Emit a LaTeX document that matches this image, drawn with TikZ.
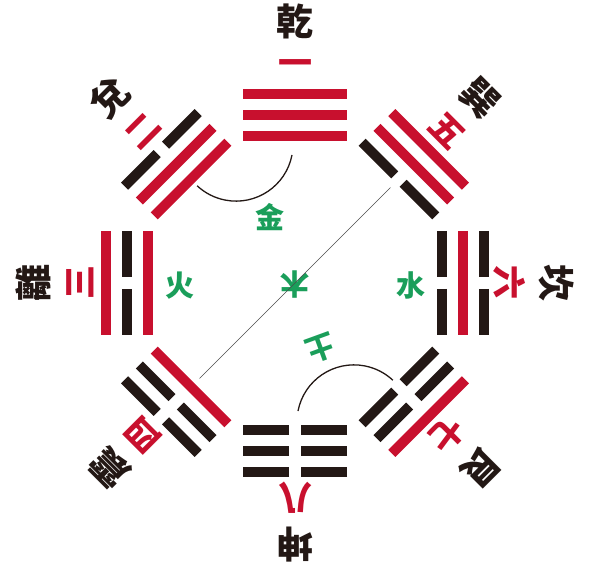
\documentclass[tikz,border=0pt]{standalone}
\usepackage{fontspec}
\newfontfamily\cjk{Noto Sans CJK TC}
\definecolor{guared}{HTML}{C8102E}
\definecolor{guablack}{HTML}{231815}
\definecolor{wxgreen}{HTML}{1A9E5A}
\tikzset{
  yang/.style={line width=10pt, guared},
  yin/.style={line width=10pt, guablack},
  guaname/.style={transform shape, inner sep=0pt, text=guablack, font=\cjk\bfseries\fontsize{37}{37}\selectfont},
  guanum/.style={transform shape, inner sep=0pt, text=guared, font=\cjk\bfseries\fontsize{34}{34}\selectfont},
  wuxing/.style={inner sep=0pt, text=wxgreen, font=\cjk\bfseries\fontsize{29}{29}\selectfont},
  link/.style={line width=1.3pt, guablack},
}
\begin{document}
\begin{tikzpicture}[x=1pt, y=1pt]
        \useasboundingbox (-295,-286) rectangle (298,283);

        % eight trigrams, bottom line nearest the centre
        \foreach \ang/\ya/\yb/\yc/\nm/\num in {90/1/1/1/乾/一, 135/1/1/0/兌/二, 180/1/0/1/離/三, 225/1/0/0/震/四, 45/0/1/1/巽/五, 0/0/1/0/坎/六, 315/0/0/1/艮/七, 270/0/0/0/坤/八}{
          \begin{scope}[rotate=\ang-90]
            \foreach \r/\y in {147/\ya, 168/\yb, 189/\yc}{
              \ifnum\y=1
                \draw[yang] (-52,\r) -- (52,\r);
              \else
                \draw[yin] (-52,\r) -- (-6,\r) (6,\r) -- (52,\r);
              \fi
            }
            \coordinate (tip\ang) at (0,135);
            \node[guanum] (num\ang) at (0,215) {\num};
            \node[guaname] (name\ang) at (0,262) {\nm};
          \end{scope}
        }

        % elements
        \node[wuxing] (jin) at (-25,66) {金};
        \node[wuxing] (huo) at (-115,-3) {火};
        \node[wuxing] (shui) at (116,-2) {水};
        \node[wuxing, rotate=180] (mu) at (0,-2) {木};
        \node[wuxing, rotate=200] (tu) at (26,-65) {土};

        \coordinate (qianfoot) at (-3,128);
        \coordinate (kunfoot) at (3,-128);
        \draw[link] (qianfoot) arc[start angle=-11, end angle=-133, radius=57];
        \draw[link] (kunfoot) arc[start angle=169, end angle=47, radius=57];
        \draw[line width=0.7pt, black!70] (tip225) -- (tip45);
\end{tikzpicture}
\end{document}
